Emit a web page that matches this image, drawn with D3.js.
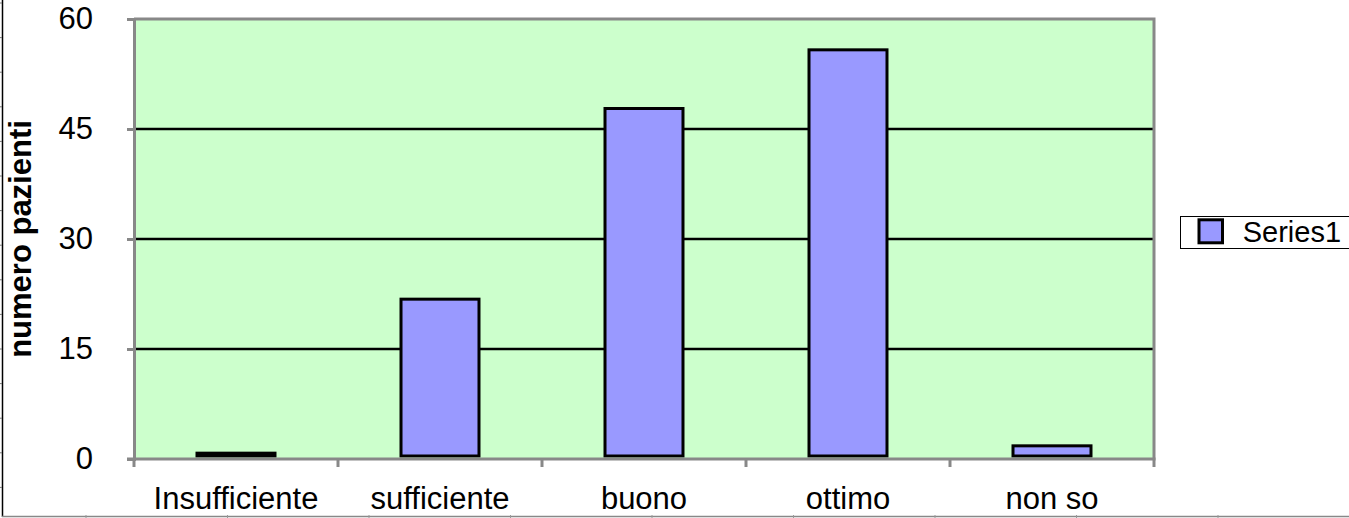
<!DOCTYPE html>
<html>
<head>
<meta charset="utf-8">
<script src="https://cdn.jsdelivr.net/npm/d3@7"></script>
<style>
  body { margin: 0; background: #fff; }
  svg { display: block; font-family: 'Liberation Sans', Arial, sans-serif; }
</style>
</head>
<body>
<svg width="1349" height="518"></svg>
<script>
const CATEGORIES = ['Insufficiente', 'sufficiente', 'buono', 'ottimo', 'non so'];
const VALUES = [1, 22, 48, 56, 2];
const Y_TICKS = [0, 15, 30, 45, 60];
const SERIES_NAME = 'Series1';
const Y_TITLE = 'numero pazienti';

const svg = d3.select('svg');
const margin = { top: 19, left: 134 };
const plotW = 1020;
const plotH = 440;

// outer frame left over from the page crop
svg.append('line')
    .attr('x1', 2.5).attr('x2', 2.5).attr('y1', 0).attr('y2', 517)
    .attr('stroke', '#000').attr('stroke-width', 1.5);
svg.append('line')
    .attr('x1', 2).attr('x2', 1349).attr('y1', 516.5).attr('y2', 516.5)
    .attr('stroke', '#888').attr('stroke-width', 1.5);
svg.append('g').selectAll('line')
    .data(d3.range(15))
    .enter().append('line')
      .attr('x1', 0).attr('x2', 2)
      .attr('y1', i => 3 + i * 34.6).attr('y2', i => 3 + i * 34.6)
      .attr('stroke', '#777').attr('stroke-width', 1);
svg.append('g').selectAll('line')
    .data(d3.range(9))
    .enter().append('line')
      .attr('x1', i => 86 + i * 141.5).attr('x2', i => 86 + i * 141.5)
      .attr('y1', 515).attr('y2', 518)
      .attr('stroke', '#999').attr('stroke-width', 1);

const g = svg.append('g').attr('transform', `translate(${margin.left},${margin.top})`);

const x = d3.scaleBand().domain(CATEGORIES).range([0, plotW]).padding(0);
const y = d3.scaleLinear().domain([0, 60]).range([plotH, 0]);

// plot background
g.append('rect')
    .attr('width', plotW).attr('height', plotH)
    .attr('fill', '#ccffcc');

// gridlines
g.append('g').selectAll('line')
    .data(Y_TICKS.filter(d => d > 0 && d < 60))
    .enter().append('line')
      .attr('x1', 0).attr('x2', plotW)
      .attr('y1', d => y(d)).attr('y2', d => y(d))
      .attr('stroke', '#000').attr('stroke-width', 2.5);

// bars, border drawn inside the bar outline (as Excel does)
const barW = x.bandwidth() * 0.397;
const sw = 3;
const base = y(0) - 1.5;
g.append('g').selectAll('rect')
    .data(VALUES)
    .enter().append('rect')
      .attr('x', (d, i) => x(CATEGORIES[i]) + (x.bandwidth() - barW) / 2 + sw / 2)
      .attr('y', d => y(d) + sw / 2)
      .attr('width', barW - sw)
      .attr('height', d => Math.max(0, base - y(d) - sw))
      .attr('fill', '#9999ff')
      .attr('stroke', '#000')
      .attr('stroke-width', sw);

// plot border (top / right)
g.append('path')
    .attr('d', `M0,0H${plotW}V${plotH}`)
    .attr('fill', 'none').attr('stroke', '#888').attr('stroke-width', 3);

// y axis
const yAxis = g.append('g')
    .call(d3.axisLeft(y).tickValues(Y_TICKS).tickSize(7).tickPadding(34));
yAxis.select('.domain').attr('stroke', '#888').attr('stroke-width', 3);
yAxis.selectAll('.tick line').attr('stroke', '#888').attr('stroke-width', 3);
yAxis.selectAll('.tick text')
    .attr('font-size', 31).attr('font-family', "'Liberation Sans', Arial, sans-serif")
    .attr('fill', '#000');

// x axis with ticks on category boundaries
const xAxis = g.append('g')
    .attr('transform', `translate(0,${plotH})`)
    .call(d3.axisBottom(x).tickSize(0).tickPadding(0));
xAxis.select('.domain').remove();
xAxis.selectAll('.tick text')
    .attr('font-size', 31).attr('font-family', "'Liberation Sans', Arial, sans-serif")
    .attr('fill', '#000').attr('dy', 0).attr('y', 50);
xAxis.append('line')
    .attr('x1', -7).attr('x2', plotW + 1.5)
    .attr('stroke', '#888').attr('stroke-width', 3);
xAxis.selectAll('.bound')
    .data(d3.range(CATEGORIES.length + 1))
    .enter().append('line')
      .attr('class', 'bound')
      .attr('x1', i => i * x.step()).attr('x2', i => i * x.step())
      .attr('y1', 0).attr('y2', 8)
      .attr('stroke', '#888').attr('stroke-width', 3);

// y title
svg.append('text')
    .attr('transform', `translate(31,${margin.top + plotH / 2})rotate(-90)`)
    .attr('text-anchor', 'middle')
    .attr('font-size', 31).attr('font-weight', 'bold')
    .text(Y_TITLE);

// legend
const legend = svg.append('g').attr('transform', 'translate(1180,216)');
legend.append('rect')
    .attr('x', 0.5).attr('y', 0.5).attr('width', 180).attr('height', 32)
    .attr('fill', '#fff').attr('stroke', '#000').attr('stroke-width', 1);
legend.append('rect')
    .attr('x', 19).attr('y', 3.8).attr('width', 23.5).attr('height', 23)
    .attr('fill', '#9999ff').attr('stroke', '#000').attr('stroke-width', 3);
legend.append('text')
    .attr('x', 62.7).attr('y', 25.7)
    .attr('font-size', 29)
    .text(SERIES_NAME);
</script>
</body>
</html>
